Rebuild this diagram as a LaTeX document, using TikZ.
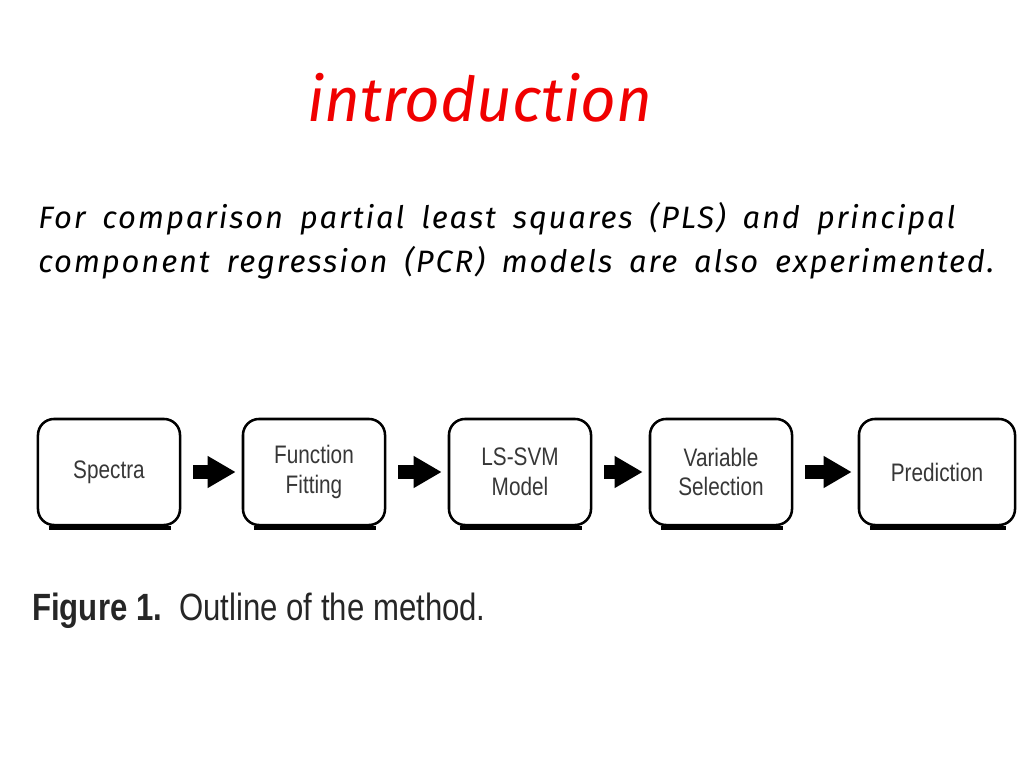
\documentclass[tikz,border=0pt]{standalone}
\usepackage{fontspec}
\usetikzlibrary{arrows.meta}
\newfontfamily\handfont{Fira Sans}
\newfontfamily\notefont[LetterSpace=6, WordSpace=1.7]{Fira Sans}
\newfontfamily\boxfont[FakeStretch=0.82]{Liberation Sans}
\definecolor{titlered}{RGB}{240,0,0}
\definecolor{boxtext}{RGB}{55,55,55}
\tikzset{
  procbox/.style = {draw, line width=1.8pt, rounded corners=0.4cm, fill=white,
                    minimum width=3.55cm, minimum height=2.65cm, inner sep=2pt,
                    align=center, text=boxtext,
                    font=\boxfont\fontsize{18}{21}\selectfont},
  flow/.style    = {line width=0.37cm, -{Triangle[length=0.7cm,width=0.75cm]},
                    shorten <=0.3cm, shorten >=0.15cm},
  under/.style   = {line width=0.1cm},
  hand/.style    = {inner sep=0pt, font=\notefont\itshape\fontsize{22}{26}\selectfont},
}

\begin{document}
\begin{tikzpicture}[x=0.025cm, y=-0.025cm]
  \useasboundingbox (0,0) rectangle (1024,768);
  % heading and note
  \node[inner sep=0pt, text=titlered, font=\handfont\itshape\fontsize{44}{50}\selectfont]
    (title) at (480,98) {introduction};
  \node[hand, anchor=west] (line1) at (38,219)
    {For comparison partial least squares (PLS) and principal};
  \node[hand, anchor=west] (line2) at (38,263)
    {component regression (PCR) models are also experimented.};
  % boxes
  \node[procbox] (spec) at (109,472) {Spectra};
  \node[procbox] (fit) at (314,472) {Function\\Fitting};
  \node[procbox] (svm) at (520,472) {LS-SVM\\Model};
  \node[procbox] (sel) at (721,472) {Variable\\Selection};
  \node[procbox, minimum width=3.9cm] (pred) at (937,472) {Prediction};
  \foreach \b in {spec,fit,svm,sel,pred}
    \draw[under] ([xshift=0.3cm,yshift=-0.05cm]\b.south west)
      -- ([xshift=-0.25cm,yshift=-0.05cm]\b.south east);
  % arrows
  \draw[flow] (spec) -- (fit);
  \draw[flow] (fit) -- (svm);
  \draw[flow] (svm) -- (sel);
  \draw[flow] (sel) -- (pred);
  % caption
  \node[inner sep=0pt, anchor=west, text=black!85, font=\boxfont\fontsize{27}{32}\selectfont]
    (cap) at (32,611) {\textbf{Figure 1.}\ \ Outline of the method.};
\end{tikzpicture}
\end{document}
